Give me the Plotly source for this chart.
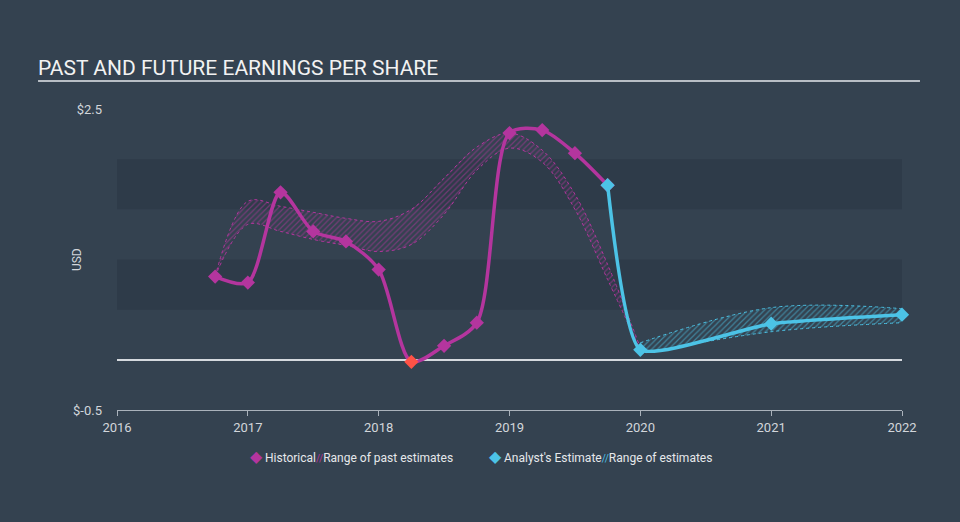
import plotly.graph_objects as go

# ---- data ----
hist_x = [2016.75, 2017.0, 2017.25, 2017.5, 2017.75, 2018.0, 2018.25, 2018.5, 2018.75,
          2019.0, 2019.25, 2019.5, 2019.75]
hist_y = [0.83, 0.77, 1.67, 1.28, 1.18, 0.90, -0.02, 0.14, 0.37, 2.26, 2.29, 2.06, 1.74]

past_x = [2016.75, 2017.0, 2017.25, 2017.5, 2017.75, 2018.0, 2018.25, 2018.5, 2018.75,
          2019.0, 2019.25, 2019.5, 2019.75, 2020.0]
past_hi = [0.83, 1.58, 1.53, 1.47, 1.41, 1.38, 1.50, 1.81, 2.12, 2.26, 2.09, 1.65, 0.95, 0.12]
past_lo = [0.83, 1.35, 1.28, 1.20, 1.14, 1.08, 1.15, 1.45, 1.89, 2.11, 1.97, 1.50, 0.80, 0.10]

est_x = [2019.75, 2020.0, 2021.0, 2022.0]
est_y = [1.74, 0.10, 0.36, 0.45]

rng_x = [2020.0, 2021.0, 2022.0]
rng_hi = [0.17, 0.52, 0.51]
rng_lo = [0.06, 0.28, 0.37]

x_ticks = [2016, 2017, 2018, 2019, 2020, 2021, 2022]
y_ticks = [-0.5, 2.5]
y_labels = ["$-0.5", "$2.5"]
bands = [(1.5, 2.0), (0.5, 1.0)]

MAG = "#b4359e"
BLUE = "#4cc3e6"
RED = "#ff5246"
BG = "#344250"
BAND = "#2e3b49"
TXT = "#d2d6db"

fig = go.Figure()

# range of past estimates
fig.add_trace(go.Scatter(x=past_x, y=past_lo, mode="lines", line=dict(color=MAG, width=1, dash="dot", shape="spline"),
                         showlegend=False, hoverinfo="skip"))
fig.add_trace(go.Scatter(x=past_x, y=past_hi, mode="lines", line=dict(color=MAG, width=1, dash="dot", shape="spline"),
                         fill="tonexty", fillcolor="rgba(180,53,158,0.14)",
                         fillpattern=dict(shape="/", fgcolor=MAG, bgcolor="rgba(0,0,0,0)", size=4, solidity=0.3),
                         showlegend=False, hoverinfo="skip"))
# range of estimates
fig.add_trace(go.Scatter(x=rng_x, y=rng_lo, mode="lines", line=dict(color=BLUE, width=1, dash="dot", shape="spline"),
                         showlegend=False, hoverinfo="skip"))
fig.add_trace(go.Scatter(x=rng_x, y=rng_hi, mode="lines", line=dict(color=BLUE, width=1, dash="dot", shape="spline"),
                         fill="tonexty", fillcolor="rgba(76,195,230,0.12)",
                         fillpattern=dict(shape="/", fgcolor=BLUE, bgcolor="rgba(0,0,0,0)", size=4, solidity=0.3),
                         showlegend=False, hoverinfo="skip"))

# historical
hist_colors = [RED if v < 0 else MAG for v in hist_y]
fig.add_trace(go.Scatter(x=hist_x, y=hist_y, mode="lines+markers",
                         line=dict(color=MAG, width=3.5, shape="spline", smoothing=0.8),
                         marker=dict(symbol="diamond", size=11, color=hist_colors),
                         cliponaxis=False, showlegend=False))
# analyst estimate
fig.add_trace(go.Scatter(x=est_x, y=est_y, mode="lines+markers",
                         line=dict(color=BLUE, width=3.5, shape="spline", smoothing=0.5),
                         marker=dict(symbol="diamond", size=11, color=BLUE),
                         cliponaxis=False, showlegend=False))

shapes = []
for lo, hi in bands:
    shapes.append(dict(type="rect", xref="paper", yref="y", x0=0, x1=1, y0=lo, y1=hi,
                       fillcolor=BAND, line=dict(width=0), layer="below"))
shapes.append(dict(type="line", xref="paper", yref="paper", x0=-0.1006, x1=1.0229, y0=1.093, y1=1.093,
                   line=dict(color="#b8bec5", width=2)))

legend_font = dict(size=12, color="#e6e8eb", family="Roboto, sans-serif")
annotations = [
    dict(text="USD", textangle=-90, xref="paper", yref="paper", x=(77 - 117) / 785, y=0.498,
         showarrow=False, font=dict(size=12, color=TXT), xanchor="center", yanchor="middle"),
    dict(text='<span style="color:%s;font-size:16px">◆</span> Historical<span style="color:%s;font-size:10px">//</span>Range of past estimates' % (MAG, MAG),
         xref="paper", yref="paper", x=(351 - 117) / 785, y=-0.156, showarrow=False,
         xanchor="center", yanchor="middle", font=legend_font),
    dict(text='<span style="color:%s;font-size:16px">◆</span> Analyst\'s Estimate<span style="color:%s;font-size:10px">//</span>Range of estimates' % (BLUE, BLUE),
         xref="paper", yref="paper", x=(600 - 117) / 785, y=-0.156, showarrow=False,
         xanchor="center", yanchor="middle", font=legend_font),
]

fig.update_layout(
    width=960, height=522,
    margin=dict(l=117, r=58, t=109, b=112),
    paper_bgcolor=BG, plot_bgcolor=BG,
    font=dict(family="Roboto, sans-serif", color=TXT, size=12),
    title=dict(text="PAST AND FUTURE EARNINGS PER SHARE", x=38/960, xanchor="left",
               y=1-68/522, yanchor="middle", font=dict(size=21, color="#f2f2f2")),
    shapes=shapes,
    annotations=annotations,
    showlegend=False,
    xaxis=dict(range=[2016, 2022], tickvals=x_ticks, ticktext=[str(t) for t in x_ticks],
               showgrid=False, zeroline=False, showline=True, linecolor="#aab2bb", linewidth=1,
               ticks="outside", ticklen=5, tickcolor="#aab2bb", tickfont=dict(size=13, color=TXT)),
    yaxis=dict(range=[-0.5, 2.5], tickvals=y_ticks, ticktext=y_labels, showgrid=False,
               zeroline=True, zerolinecolor="#d5d9de", zerolinewidth=1.5, showline=False,
               ticks="", ticklabelstandoff=14, tickfont=dict(size=13, color=TXT)),
    hovermode=False,
)

fig.write_html("out.html", config={"displayModeBar": False},
               post_script="document.body.style.margin='0';document.body.style.background='%s';" % BG)
